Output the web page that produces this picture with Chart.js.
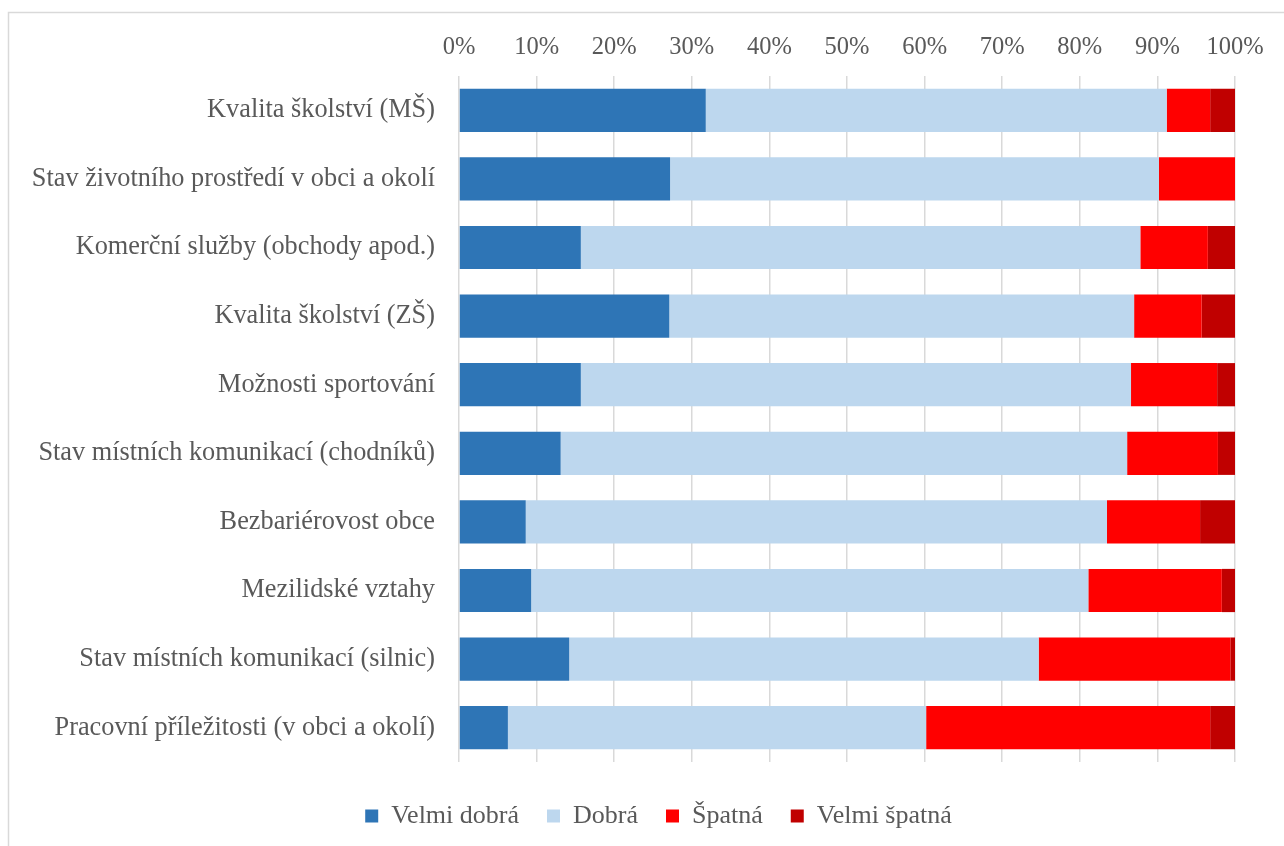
<!DOCTYPE html>
<html>
<head>
<meta charset="utf-8">
<title>Hodnocení obce</title>
<script src="https://cdn.jsdelivr.net/npm/chart.js@4.4.1/dist/chart.umd.min.js"></script>
<style>
    html, body { margin: 0; padding: 0; background: #ffffff; }
    #wrap { position: relative; width: 1284px; height: 846px; }
</style>
</head>
<body>
<div id="wrap"><canvas id="ratingChart" width="1284" height="846"></canvas></div>
<script>
// Categories (top to bottom)
const categories = [
    'Kvalita školství (MŠ)',
    'Stav životního prostředí v obci a okolí',
    'Komerční služby (obchody apod.)',
    'Kvalita školství (ZŠ)',
    'Možnosti sportování',
    'Stav místních komunikací (chodníků)',
    'Bezbariérovost obce',
    'Mezilidské vztahy',
    'Stav místních komunikací (silnic)',
    'Pracovní příležitosti (v obci a okolí)'
];

// Shares in percent
const velmiDobra  = [31.8, 27.2, 15.7, 27.1, 15.7, 13.1,  8.6,  9.3, 14.2,  6.3];
const dobra       = [59.4, 63.0, 72.1, 59.9, 70.9, 73.0, 74.9, 71.8, 60.5, 53.9];
const spatna      = [ 5.6,  9.8,  8.7,  8.7, 11.1, 11.7, 12.0, 17.2, 24.7, 36.6];
const velmiSpatna = [ 3.2,  0.0,  3.5,  4.3,  2.3,  2.2,  4.5,  1.7,  0.6,  3.2];

const seriesNames = ['Velmi dobrá', 'Dobrá', 'Špatná', 'Velmi špatná'];
const tickValues = [0, 10, 20, 30, 40, 50, 60, 70, 80, 90, 100];

const textColor = '#595959';
const gridColor = '#d9d9d9';
const fontFamily = "'Liberation Serif', 'Times New Roman', serif";

// Light frame around the chart (left and top edges are visible)
const framePlugin = {
    id: 'frame',
    beforeDraw: function (chart) {
        const ctx = chart.ctx;
        ctx.save();
        ctx.strokeStyle = gridColor;
        ctx.lineWidth = 1.5;
        ctx.strokeRect(8.5, 12.5, 1400, 1000);
        ctx.restore();
    }
};

// Move the legend a bit to the right, like in the original
const legendShift = {
    id: 'legendShift',
    afterLayout: function (chart) {
        if (chart.legend) {
            chart.legend.left += 31;
            chart.legend.right += 31;
        }
    }
};

const ctx = document.getElementById('ratingChart').getContext('2d');

new Chart(ctx, {
    type: 'bar',
    data: {
        labels: categories,
        datasets: [
            { label: seriesNames[0], data: velmiDobra,  backgroundColor: '#2e75b6' },
            { label: seriesNames[1], data: dobra,       backgroundColor: '#bdd7ee' },
            { label: seriesNames[2], data: spatna,      backgroundColor: '#ff0000' },
            { label: seriesNames[3], data: velmiSpatna, backgroundColor: '#c00000' }
        ]
    },
    options: {
        indexAxis: 'y',
        responsive: false,
        animation: false,
        datasets: {
            bar: {
                categoryPercentage: 1.0,
                barPercentage: 0.63,
                borderWidth: 0
            }
        },
        layout: {
            padding: { top: 12, left: 20, right: 49, bottom: 7 }
        },
        scales: {
            x: {
                position: 'top',
                stacked: true,
                min: 0,
                max: 100,
                afterBuildTicks: function (scale) {
                    scale.ticks = tickValues.map(v => ({ value: v }));
                },
                afterFit: function (scale) {
                    scale.height = 76 - 12;
                },
                grid: {
                    color: gridColor,
                    lineWidth: 1.5,
                    drawTicks: false
                },
                border: { display: false },
                ticks: {
                    color: textColor,
                    padding: 14,
                    maxRotation: 0,
                    font: { family: fontFamily, size: 24.5 },
                    callback: function (value) {
                        return value + '%';
                    }
                }
            },
            y: {
                stacked: true,
                afterFit: function (scale) {
                    scale.width = 459 - 20;
                },
                grid: { display: false, drawTicks: false },
                border: { display: false },
                ticks: {
                    color: textColor,
                    padding: 24,
                    font: { family: fontFamily, size: 26.3 }
                }
            }
        },
        plugins: {
            legend: {
                position: 'bottom',
                title: {
                    display: true,
                    text: '',
                    font: { size: 13, lineHeight: 1 }
                },
                labels: {
                    color: textColor,
                    boxWidth: 13,
                    boxHeight: 13,
                    padding: 28,
                    font: { family: fontFamily, size: 26 }
                }
            },
            tooltip: { enabled: false }
        }
    },
    plugins: [framePlugin, legendShift]
});
</script>
</body>
</html>
